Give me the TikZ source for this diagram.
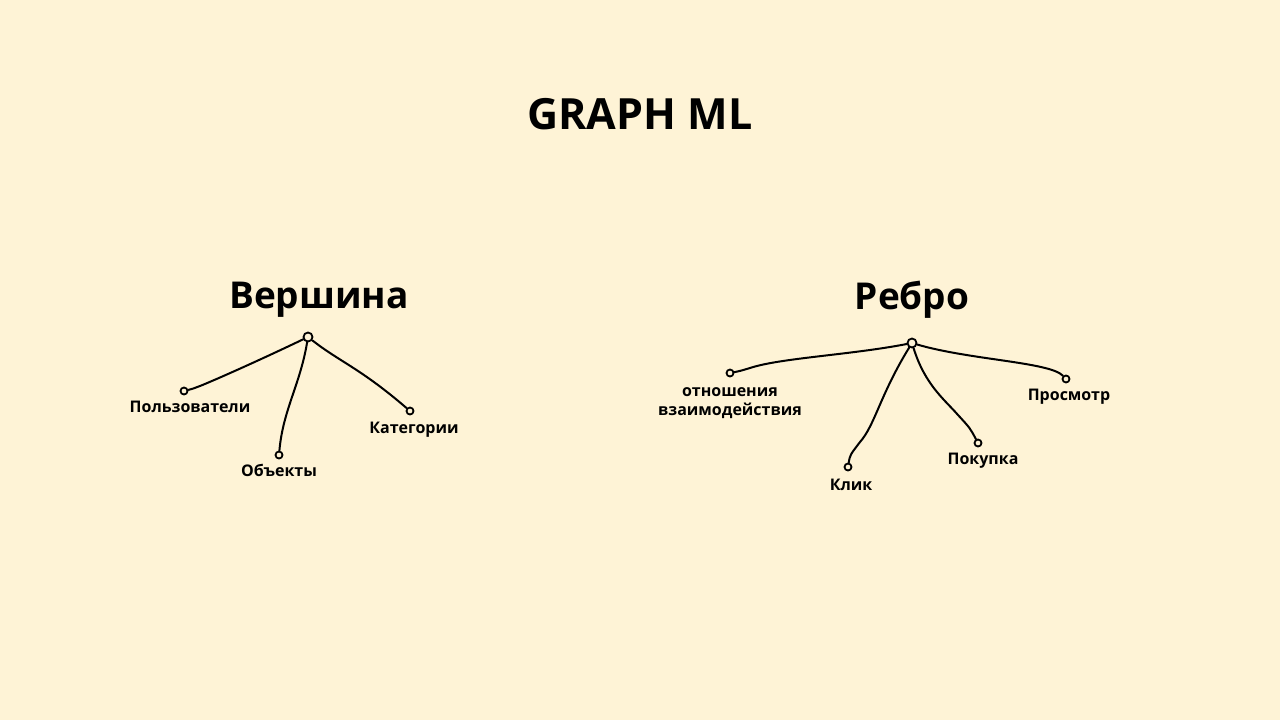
\documentclass[tikz,border=0pt]{standalone}
\usepackage{fontspec}
\setmainfont{Open Sans}
\usetikzlibrary{positioning}
\definecolor{cream}{RGB}{254,243,214}

\begin{document}
\begin{tikzpicture}[x=1pt, y=-1pt,
  dot/.style={draw, circle, line width=1.8pt, inner sep=0pt, minimum size=7pt},
  hub/.style={dot, minimum size=9pt},
  lbl/.style={font=\bfseries\fontsize{16}{19}\selectfont, inner sep=1pt, align=center},
  head/.style={font=\bfseries\fontsize{37}{44}\selectfont},
  link/.style={line width=2pt, line cap=round}]
  \fill [cream] (0,0) rectangle (1280,720);
  \useasboundingbox (0,0) rectangle (1280,720);

  \node [font=\bfseries\fontsize{43}{50}\selectfont] (title) at (640,114) {GRAPH ML};

  % vertices
  \node [head] (vert) at (319,300) {Вершина};
  \node [hub] (vHub) at (308,337) {};
  \node [dot] (vUsers) at (184,391) {};
  \node [dot] (vObj) at (279,455) {};
  \node [dot] (vCat) at (410,411) {};
  \node [lbl] (lUsers) [below=4pt of vUsers, xshift=6pt] {Пользователи};
  \node [lbl] (lObj) [below=4pt of vObj] {Объекты};
  \node [lbl] (lCat) [below=5pt of vCat, xshift=4pt] {Категории};

  \draw [link] (vHub) .. controls (260,360) and (215,380) .. (200,386) .. controls (192,389) .. (vUsers);
  \draw [link] (vHub) .. controls (300,385) and (283,410) .. (vObj);
  \draw [link] (vHub) .. controls (340,362) and (360,368) .. (vCat);

  % edges
  \node [head] (edge) at (912,300) {Ребро};
  \node [hub] (eHub) at (912,343) {};
  \node [dot] (eRel) at (730,373) {};
  \node [dot] (eClick) at (848,467) {};
  \node [dot] (eBuy) at (978,443) {};
  \node [dot] (eView) at (1066,379) {};
  \node [lbl] (lRel) [below=9pt of eRel] {отношения\\взаимодействия};
  \node [lbl] (lClick) [below=6pt of eClick, xshift=3pt] {Клик};
  \node [lbl] (lBuy) [below=4pt of eBuy, xshift=5pt] {Покупка};
  \node [lbl] (lView) [below=4pt of eView, xshift=3pt] {Просмотр};

  \draw [link] (eHub) .. controls (850,355) and (780,358) .. (750,368) .. controls (740,371) .. (eRel);
  \draw [link] (eHub) .. controls (880,395) and (875,425) .. (860,442) .. controls (850,455) .. (eClick);
  \draw [link] (eHub) .. controls (925,385) and (945,400) .. (958,415) .. controls (970,428) .. (eBuy);
  \draw [link] (eHub) .. controls (970,360) and (1050,362) .. (eView);
\end{tikzpicture}
\end{document}
